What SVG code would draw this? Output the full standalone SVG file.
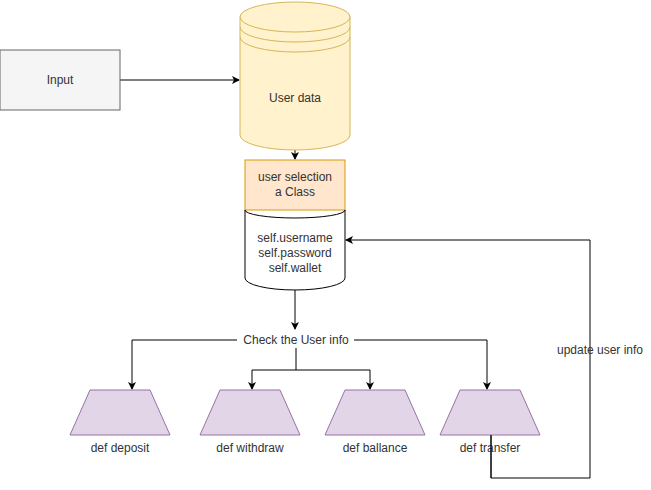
<svg xmlns="http://www.w3.org/2000/svg" width="651" height="490" viewBox="0 0 651 490">
<defs>
<marker id="arr" markerWidth="8" markerHeight="8" refX="7" refY="4" orient="auto" markerUnits="userSpaceOnUse">
<path d="M0,0 L8,4 L0,8 L2,4 Z" fill="#000"/>
</marker>
<style>
text{font-family:"Liberation Sans",Arial,sans-serif;font-size:12px;fill:#333;text-anchor:middle;dominant-baseline:central}
.c{fill:none;stroke:#000;stroke-width:1}
.trap{fill:#e1d5e7;stroke:#9673a6;stroke-width:1}
</style>
</defs>
<rect width="651" height="490" fill="#fff"/>
<g id="connectors">
<path class="c" d="M120,80 L239,80" marker-end="url(#arr)"/>
<path class="c" d="M295,150 L295,159" marker-end="url(#arr)"/>
<path class="c" d="M295,290 L295,329" marker-end="url(#arr)"/>
<path class="c" d="M237,340 L132,340 L132,389" marker-end="url(#arr)"/>
<path class="c" d="M296,347 L296,370 L252,370 L252,389" marker-end="url(#arr)"/>
<path class="c" d="M296,370 L370,370 L370,389" marker-end="url(#arr)"/>
<path class="c" d="M354,340 L487,340 L487,389" marker-end="url(#arr)"/>
<path class="c" d="M491,435 L491,478 L590,478 L590,240 L346,240" marker-end="url(#arr)"/>
<text x="600" y="350">update user info</text>
<rect x="238" y="332" width="116" height="16" fill="#fff"/>
<text x="296" y="340">Check the User info</text>
</g>
<g id="input">
<rect x="0" y="50" width="120" height="60" fill="#f5f5f5" stroke="#666"/>
<text x="60" y="80">Input</text>
</g>
<g id="user-data">
<path d="M240,17 A55,15 0 0 1 350,17 L350,135 A55,15 0 0 1 240,135 Z" fill="#fff2cc" stroke="#d6b656"/>
<path d="M240,17 A55,15 0 0 0 350,17 M240,27 A55,15 0 0 0 350,27 M240,37 A55,15 0 0 0 350,37" fill="none" stroke="#d6b656"/>
<text x="295" y="98">User data</text>
</g>
<g id="user-selection">
<rect x="245" y="160" width="100" height="50" fill="#ffe6cc" stroke="#d79b00"/>
<text x="295" y="177">user selection</text>
<text x="295" y="192">a Class</text>
</g>
<g id="attributes">
<path d="M245,210 A50,8 0 0 0 345,210 L345,278 A50,12 0 0 1 245,278 Z" fill="#fff" stroke="#000"/>
<text x="295" y="238">self.username</text>
<text x="295" y="253">self.password</text>
<text x="295" y="268">self.wallet</text>
</g>
<g id="deposit">
<path class="trap" d="M70,435 L90,390 L150,390 L170,435 Z"/>
<text x="120" y="448">def deposit</text>
</g>
<g id="withdraw">
<path class="trap" d="M200,435 L220,390 L280,390 L300,435 Z"/>
<text x="250" y="448">def withdraw</text>
</g>
<g id="ballance">
<path class="trap" d="M325,435 L345,390 L405,390 L425,435 Z"/>
<text x="375" y="448">def ballance</text>
</g>
<g id="transfer">
<path class="trap" d="M440,435 L460,390 L520,390 L540,435 Z"/>
<text x="490" y="448">def transfer</text>
</g>
<path class="c" d="M491,435 L491,478"/>
</svg>
